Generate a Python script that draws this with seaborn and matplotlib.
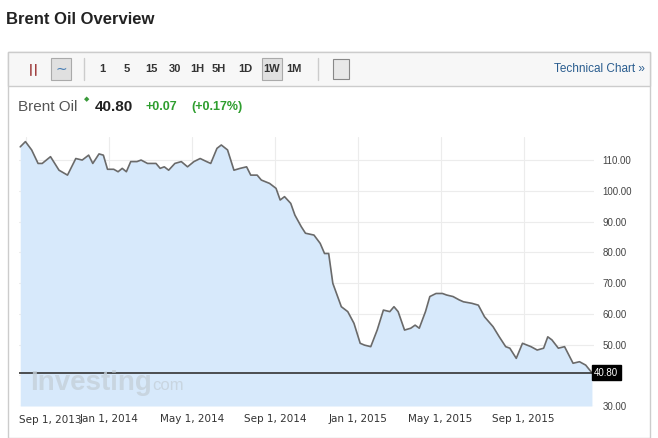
import matplotlib
matplotlib.use("Agg")
import matplotlib.pyplot as plt
import seaborn as sns
import pandas as pd
from matplotlib.patches import Rectangle

sns.set_style("white")
plt.rcParams['font.family'] = ['Liberation Sans', 'DejaVu Sans']

# months since Sep 1, 2013
months = [-0.28, -0.03, 0.27, 0.58, 0.78, 1.18, 1.59, 2.0, 2.40, 2.71, 3.02, 3.22, 3.52, 3.73, 3.93,
          4.23, 4.44, 4.64, 4.84, 5.05, 5.35, 5.55, 5.86, 6.27, 6.47, 6.67, 6.88, 7.18, 7.49, 7.79,
          8.1, 8.4, 8.71, 8.91, 9.21, 9.42, 9.72, 10.03, 10.33, 10.64, 10.84, 11.15, 11.35, 11.75,
          12.06, 12.26, 12.47, 12.77, 12.97, 13.28, 13.48, 13.89, 14.19, 14.4, 14.6, 14.8, 15.21,
          15.52, 15.82, 16.12, 16.33, 16.63, 16.94, 17.24, 17.55, 17.75, 17.95, 18.26, 18.56, 18.77,
          18.97, 19.27, 19.48, 19.78, 20.09, 20.29, 20.6, 20.9, 21.1, 21.51, 21.82, 22.12, 22.53,
          22.83, 23.14, 23.34, 23.65, 23.95, 24.36, 24.66, 24.97, 25.17, 25.37, 25.68, 25.98, 26.39,
          26.7, 27.0, 27.3]
price = [114.3, 116.0, 113.3, 108.9, 108.9, 111.1, 106.7, 105.1, 110.5, 110.0, 111.6, 108.9, 112.0,
         111.6, 107.0, 107.0, 106.2, 107.3, 106.2, 109.5, 109.5, 110.0, 108.9, 108.9, 107.3, 107.8,
         106.7, 108.9, 109.5, 107.8, 109.5, 110.5, 109.5, 108.9, 113.8, 114.9, 113.3, 106.7, 107.3,
         107.8, 105.1, 105.1, 103.5, 102.4, 100.8, 97.0, 98.1, 95.9, 92.1, 88.3, 86.2, 85.6, 82.9,
         79.6, 79.6, 69.9, 62.3, 60.7, 56.9, 50.4, 49.8, 49.3, 54.7, 61.2, 60.7, 62.3, 60.7, 54.7,
         55.3, 56.3, 55.3, 60.7, 65.6, 66.6, 66.6, 66.1, 65.6, 64.5, 63.9, 63.4, 62.8, 59.0, 55.8,
         52.5, 49.3, 48.8, 45.5, 50.4, 49.3, 48.2, 48.8, 52.5, 51.5, 48.8, 49.3, 43.9, 44.4, 43.3, 40.8]
tick_months = [0, 4, 8, 12, 16, 20, 24]
tick_labels = ["Sep 1, 2013", "Jan 1, 2014", "May 1, 2014", "Sep 1, 2014",
               "Jan 1, 2015", "May 1, 2015", "Sep 1, 2015"]
y_ticks = [30, 40, 50, 60, 70, 80, 90, 100, 110]
last_price = 40.80
intervals = ["1", "5", "15", "30", "1H", "5H", "1D", "1W", "1M"]

df = pd.DataFrame({"m": months, "p": price})
W, H = 658, 438
fig = plt.figure(figsize=(W/100, H/100), dpi=100)
fig.patch.set_facecolor("white")

def px(x, y):
    return x / W, 1 - y / H

fig.add_artist(Rectangle(px(8, 438), 642/W, 386/H, transform=fig.transFigure,
                         fill=False, edgecolor="#cccccc", lw=1))
fig.add_artist(Rectangle(px(8, 86), 642/W, 34/H, transform=fig.transFigure,
                         facecolor="#f7f7f7", edgecolor="#cccccc", lw=1))
fig.text(*px(6, 20), "Brent Oil Overview", fontsize=12, fontweight="bold", color="#222222", va="center")
# toolbar
fig.text(*px(28, 69), "\u2503\u2503", fontsize=7, color="#a04040", va="center")
fig.add_artist(Rectangle(px(51, 80), 20/W, 22/H, transform=fig.transFigure,
                         facecolor="#e0e0e0", edgecolor="#aaaaaa", lw=0.8))
fig.text(*px(61, 69), "\u223c", fontsize=10, color="#4a7fb5", va="center", ha="center")
fig.add_artist(Rectangle(px(262, 80), 20/W, 22/H, transform=fig.transFigure,
                         facecolor="#e0e0e0", edgecolor="#aaaaaa", lw=0.8))
fig.add_artist(Rectangle(px(333, 79), 16/W, 20/H, transform=fig.transFigure,
                         facecolor="#e8e8e8", edgecolor="#888888", lw=0.8))
for xpos in [84, 318]:
    fig.add_artist(plt.Line2D([xpos/W, xpos/W], [1-58/H, 1-80/H], color="#cccccc", lw=1))
for lab, xc in zip(intervals, [102, 127, 151, 175, 197, 219, 245, 272, 294]):
    fig.text(*px(xc, 69), lab, fontsize=8, fontweight="bold", color="#333333",
             va="center", ha="center")
fig.text(*px(645, 69), "Technical Chart \u00bb", fontsize=8.5, color="#2a5d8f", va="center", ha="right")

fig.text(*px(18, 107), "Brent Oil", fontsize=11, color="#555555", va="center")
fig.text(*px(84, 100), "\u25c6", fontsize=5, color="#3a9a3a", va="center")
fig.text(*px(95, 107), "40.80", fontsize=11, fontweight="bold", color="#222222", va="center")
fig.text(*px(146, 107), "+0.07", fontsize=9, fontweight="bold", color="#2f9e2f", va="center")
fig.text(*px(191, 107), "(+0.17%)", fontsize=9, fontweight="bold", color="#2f9e2f", va="center")

ax = fig.add_axes([19/W, 1 - 406/H, (594 - 19)/W, (406 - 137)/H])
ax.set_xlim(-0.34, 27.4)
ax.set_ylim(30, 117.5)
ax.fill_between(df["m"], df["p"], 30, color="#d7e9fb", lw=0)
sns.lineplot(data=df, x="m", y="p", ax=ax, color="#6a6a6a", lw=1.2)
ax.axhline(last_price, color="#333333", lw=1.2)
ax.set_xticks(tick_months)
ax.set_xticklabels([""] + tick_labels[1:], fontsize=7.5, color="#333333",
                   family="Liberation Sans Narrow")
ax.text(-0.34, -0.034, tick_labels[0], transform=ax.get_xaxis_transform(), fontsize=7.5,
        color="#333333", family="Liberation Sans Narrow", ha="left", va="top")
ax.set_yticks(y_ticks)
ax.set_yticklabels(["" if v == 40 else f"{v:.2f}" for v in y_ticks], fontsize=7, color="#444444")
ax.yaxis.tick_right()
ax.tick_params(length=0, pad=6)
ax.grid(True, color="#ececec", lw=0.8)
ax.set_axisbelow(True)
for s in ax.spines.values():
    s.set_visible(False)
ax.set_xlabel("")
ax.set_ylabel("")
ax.text(0.02, 0.06, "Investing", transform=ax.transAxes, fontsize=20, fontweight="bold",
        color="#c5d0da", alpha=0.8)
ax.text(0.232, 0.06, "com", transform=ax.transAxes, fontsize=12, color="#c5d0da", alpha=0.8)
ax.text(1.0, last_price, "40.80", transform=ax.get_yaxis_transform(), fontsize=7, color="white",
        va="center", ha="left", bbox=dict(boxstyle="square,pad=0.25", fc="black", ec="black"))

fig.savefig("out.png", dpi=100)
